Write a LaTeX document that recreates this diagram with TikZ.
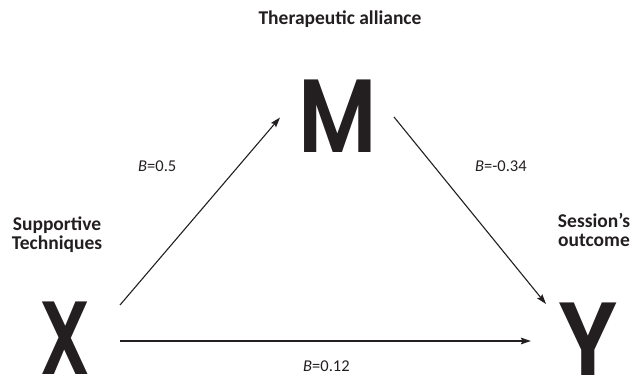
\documentclass[tikz,border=0pt]{standalone}
\usepackage{fontspec}
\setmainfont{Carlito}
\newfontfamily\bigletters{Poppins SemiBold}
\usetikzlibrary{arrows.meta}
\definecolor{ink}{HTML}{231F20}
\tikzset{
  lab/.style={font=\fontsize{19.5}{20}\selectfont\bfseries, text=ink, inner sep=0pt, anchor=base},
  coef/.style={font=\fontsize{16.5}{18}\selectfont, text=ink, inner sep=0pt, anchor=base west},
  letter/.style={font=\bigletters\fontsize{104}{104}\selectfont, text=ink, inner sep=0pt, anchor=base},
  arr/.style={draw=ink, line width=1.1pt, -{Stealth[length=10pt,width=6.5pt,inset=1.5pt]}},
  harr/.style={arr, line width=1.7pt}
}
\begin{document}
\begin{tikzpicture}[x=1pt,y=-1pt]
\useasboundingbox (0,0) rectangle (633,377);
\node[lab] (title) at (340,25) {Therapeutic alliance};
\node[lab] (sup) at (57,230.5) {Supportive};
\node[lab] (tech) at (57,250) {Techniques};
\node[lab] (sess) at (594,228) {Session’s};
\node[lab] (outc) at (594,247) {outcome};
\node[letter] (M) at (337.5,153) {\scalebox{0.84}[1]{M}};
\node[letter] (X) at (65,374) {\scalebox{0.72}[1]{X}};
\node[letter] (Y) at (588,376) {\scalebox{0.9}[1]{Y}};
\node[coef] (b1) at (138,171.7) {\textit{B}=0.5};
\node[coef] (b2) at (475,171.7) {\textit{B}=-0.34};
\node[coef] (b3) at (303,371.7) {\textit{B}=0.12};
\coordinate (xm0) at (120,305);
\coordinate (xm1) at (280,117.5);
\coordinate (my0) at (394,117);
\coordinate (my1) at (546,304);
\coordinate (xy0) at (120,341);
\coordinate (xy1) at (531,341);
\draw[arr] (xm0) -- (xm1);
\draw[arr] (my0) -- (my1);
\draw[harr] (xy0) -- (xy1);
\end{tikzpicture}
\end{document}
